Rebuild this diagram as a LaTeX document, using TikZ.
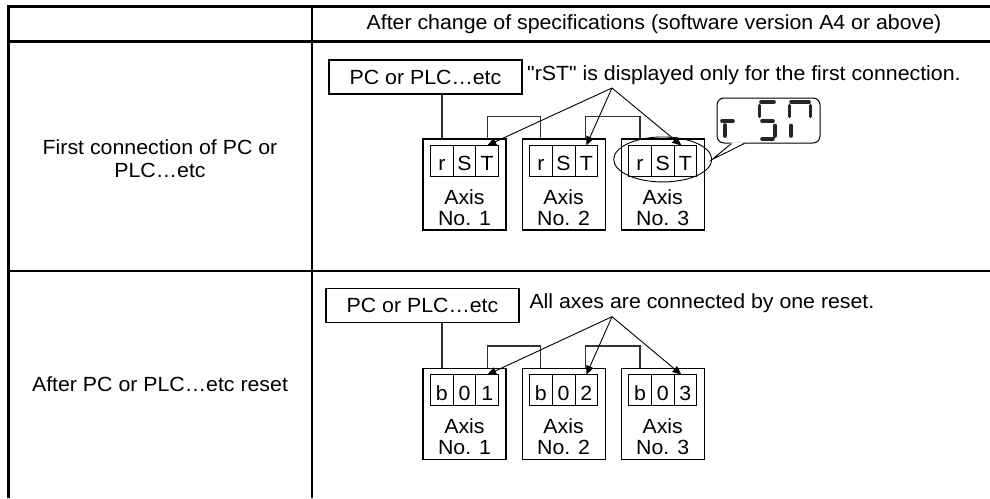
\documentclass[tikz,border=0pt]{standalone}
\usepackage{fontspec}
\setmainfont{Liberation Sans}[FakeStretch=1.04, Ligatures=TeXOff]
\usetikzlibrary{arrows.meta, positioning, shapes.geometric}

\begin{document}
\begin{tikzpicture}[
    x=1pt, y=-1pt,
    font=\fontsize{20.5}{23}\selectfont,
    node distance=15pt,
    pcbox/.style={rectangle, draw, line width=1.1pt, minimum width=193pt, minimum height=34pt, inner sep=0pt},
    axisbox/.style={rectangle, draw, line width=1.1pt, minimum width=83pt, minimum height=91pt, inner sep=0pt},
    cell/.style={rectangle, draw, line width=0.9pt, outer sep=0pt, minimum width=22.7pt, minimum height=31pt, inner sep=0pt, text height=19.5pt, text depth=0pt},
    axislabel/.style={align=center, inner sep=0pt, font=\fontsize{20.5}{21}\selectfont},
    txt/.style={inner sep=0pt},
    wire/.style={draw=black!80, line width=1.5pt},
    pointer/.style={-{Triangle[length=9pt, width=7.5pt]}, line width=0.9pt},
    segline/.style={line width=3.6pt, line cap=round, black!85}
    ]
    \useasboundingbox (0,0) rectangle (990,498);

    % table rules
    \draw[line width=3pt] (8,498) -- (8,6) -- (990,6);
    \draw[line width=3pt] (8,41) -- (990,41);
    \draw[line width=2.5pt] (8,271) -- (990,271);
    \draw[line width=2.2pt] (312,6) -- (312,498);

    \node[txt] (head) at (654,24) {After change of specifications (software version A4 or above)};
    \node[txt, align=center] (lab1) at (160,158.5) {First connection of PC or\\PLC…etc};
    \node[txt] (lab2) at (160,384.5) {After PC or PLC…etc reset};

    % first connection
    \node[pcbox] (pc1) at (425.5,77) {PC or PLC…etc};
    \node[txt, anchor=west] (note1) at (527,75) {"rST" is displayed only for the first connection.};
    \node[axisbox] (a1) at (464.5,184.5) {};
    \node[axisbox, right=of a1] (a2) {};
    \node[axisbox, right=of a2] (a3) {};
    \node[cell, anchor=north west] (a1r) at ([shift={(8,7)}]a1.north west) {r};
    \node[cell, right=0pt of a1r] (a1s) {S};
    \node[cell, right=0pt of a1s] (a1t) {T};
    \node[cell, anchor=north west] (a2r) at ([shift={(8,7)}]a2.north west) {r};
    \node[cell, right=0pt of a2r] (a2s) {S};
    \node[cell, right=0pt of a2s] (a2t) {T};
    \node[cell, anchor=north west] (a3r) at ([shift={(8,7)}]a3.north west) {r};
    \node[cell, right=0pt of a3r] (a3s) {S};
    \node[cell, right=0pt of a3s] (a3t) {T};
    \node[axislabel] (a1l) at ([yshift=-23pt]a1.center) {Axis\\No. 1};
    \node[axislabel] (a2l) at ([yshift=-23pt]a2.center) {Axis\\No. 2};
    \node[axislabel] (a3l) at ([yshift=-23pt]a3.center) {Axis\\No. 3};

    \coordinate (w1) at ([xshift=-22.5pt]a1.north);
    \draw[wire] (w1) -- (w1 |- pc1.south);
    \draw[wire] ([xshift=23pt]a1.north) -- ++(0,-22) -| ([xshift=-23pt]a2.north);
    \draw[wire] ([xshift=22pt]a2.north) -- ++(0,-22) -| ([xshift=-22.5pt]a3.north);

    \coordinate (fork1) at (612,88);
    \draw[pointer] (fork1) -- (a1t.north);
    \draw[pointer] (fork1) -- (a2t.north);
    \draw[pointer] (fork1) -- ([xshift=-4pt]a3t.north);

    \node[draw, ellipse, line width=0.9pt, minimum width=98pt, minimum height=45pt, inner sep=0pt] (oval) at ([yshift=1.5pt]a3s.center) {};
    \node[draw, rectangle, rounded corners=7pt, line width=1pt, minimum width=103pt, minimum height=45pt] (bubble) at (768.5,120.5) {};
    \coordinate (tail1) at ([xshift=-37pt]bubble.south);
    \coordinate (tail2) at ([xshift=-24pt]bubble.south);
    \fill[white] ([yshift=1.2pt]tail1) -- ([yshift=1.2pt]tail2) -- (oval.east) -- cycle;
    \draw[line width=0.9pt] (tail1) -- (oval.east) -- (tail2);

    % seven segment rST
    \draw[segline] (722,121) -- (733,121) (725,125) -- (725,136);
    \draw[segline] (761,102) -- (774,102) (759.5,105.5) -- (759.5,116.5) (762,121) -- (773,121)
        (775,125.5) -- (775,136) (762,139) -- (773,139);
    \draw[segline] (791,102) -- (809,102) (789.5,105.5) -- (789.5,116.5) (810.5,105.5) -- (810.5,116.5)
        (791,125.5) -- (791,136);

    % after reset
    \node[pcbox] (pc2) at (422.5,305.5) {PC or PLC…etc};
    \node[txt, anchor=west] (note2) at (529.3,303.3) {All axes are connected by one reset.};
    \node[axisbox] (b1) at (464.5,413.8) {};
    \node[axisbox, right=of b1] (b2) {};
    \node[axisbox, right=of b2] (b3) {};
    \node[cell, anchor=north west] (b1r) at ([shift={(8,7)}]b1.north west) {b};
    \node[cell, right=0pt of b1r] (b1s) {0};
    \node[cell, right=0pt of b1s] (b1t) {1};
    \node[cell, anchor=north west] (b2r) at ([shift={(8,7)}]b2.north west) {b};
    \node[cell, right=0pt of b2r] (b2s) {0};
    \node[cell, right=0pt of b2s] (b2t) {2};
    \node[cell, anchor=north west] (b3r) at ([shift={(8,7)}]b3.north west) {b};
    \node[cell, right=0pt of b3r] (b3s) {0};
    \node[cell, right=0pt of b3s] (b3t) {3};
    \node[axislabel] (b1l) at ([yshift=-23pt]b1.center) {Axis\\No. 1};
    \node[axislabel] (b2l) at ([yshift=-23pt]b2.center) {Axis\\No. 2};
    \node[axislabel] (b3l) at ([yshift=-23pt]b3.center) {Axis\\No. 3};

    \coordinate (w2) at ([xshift=-22.5pt]b1.north);
    \draw[wire] (w2) -- (w2 |- pc2.south);
    \draw[wire] ([xshift=23pt]b1.north) -- ++(0,-22) -| ([xshift=-23pt]b2.north);
    \draw[wire] ([xshift=22pt]b2.north) -- ++(0,-22) -| ([xshift=-22.5pt]b3.north);

    \coordinate (fork2) at (612,316.7);
    \draw[pointer] (fork2) -- (b1t.north);
    \draw[pointer] (fork2) -- (b2t.north);
    \draw[pointer] (fork2) -- ([xshift=-4pt]b3t.north);
\end{tikzpicture}
\end{document}
